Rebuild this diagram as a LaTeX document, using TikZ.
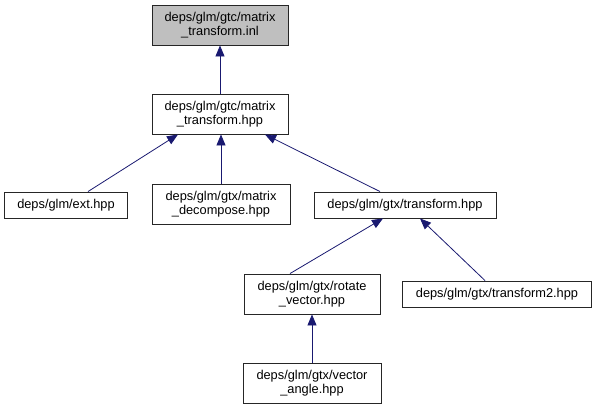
\documentclass[tikz,border=0pt]{standalone}
\usepackage{fontspec}
\setmainfont{Liberation Sans}
\usetikzlibrary{arrows.meta,calc}
\definecolor{edgeblue}{HTML}{191970}
\definecolor{boxgray}{HTML}{BFBFBF}
\tikzset{
  x=1pt,y=-1pt,
  filebox/.style={draw=black!85, line width=0.9pt, fill=white, inner sep=0pt, align=center,
    font=\fontsize{12.8}{14.5}\selectfont, minimum height=40pt},
  onebox/.style={filebox, minimum height=26pt},
  dep/.style={draw=edgeblue, line width=0.8pt, -{Triangle[length=11pt,width=9pt]}, color=edgeblue}
}
\begin{document}
\begin{tikzpicture}
\useasboundingbox (0,0) rectangle (597,409);
\node[filebox, fill=boxgray, minimum width=136pt] (inl) at (220,25) {deps/glm/gtc/matrix\\\_transform.inl};
\node[filebox, minimum width=136pt] (mt) at (220,114) {deps/glm/gtc/matrix\\\_transform.hpp};
\node[onebox, minimum width=123pt] (ext) at (66,205) {deps/glm/ext.hpp};
\node[filebox, minimum width=138pt] (dec) at (221,204) {deps/glm/gtx/matrix\\\_decompose.hpp};
\node[onebox, minimum width=182pt] (tr) at (405,205) {deps/glm/gtx/transform.hpp};
\node[filebox, minimum width=136pt] (rot) at (312,294) {deps/glm/gtx/rotate\\\_vector.hpp};
\node[onebox, minimum width=189pt] (tr2) at (497,294) {deps/glm/gtx/transform2.hpp};
\node[filebox, minimum width=138pt] (va) at (312,383) {deps/glm/gtx/vector\\\_angle.hpp};
\coordinate (extTop) at ($(ext.north)+(22,0)$);
\coordinate (mtL) at ($(mt.south)+(-42,0)$);
\coordinate (mtR) at ($(mt.south)+(45,0)$);
\coordinate (trTop) at ($(tr.north)+(-25,0)$);
\coordinate (trL) at ($(tr.south)+(-22,0)$);
\coordinate (trR) at ($(tr.south)+(15,0)$);
\coordinate (rotTop) at ($(rot.north)+(-22,0)$);
\coordinate (tr2Top) at ($(tr2.north)+(-12,0)$);
\draw[dep] (mt.north) -- (inl.south);
\draw[dep] (extTop) -- (mtL);
\draw[dep] (dec.north) -- (dec.north |- mt.south);
\draw[dep] (trTop) -- (mtR);
\draw[dep] (rotTop) -- (trL);
\draw[dep] (tr2Top) -- (trR);
\draw[dep] (va.north) -- (rot.south);
\end{tikzpicture}
\end{document}
